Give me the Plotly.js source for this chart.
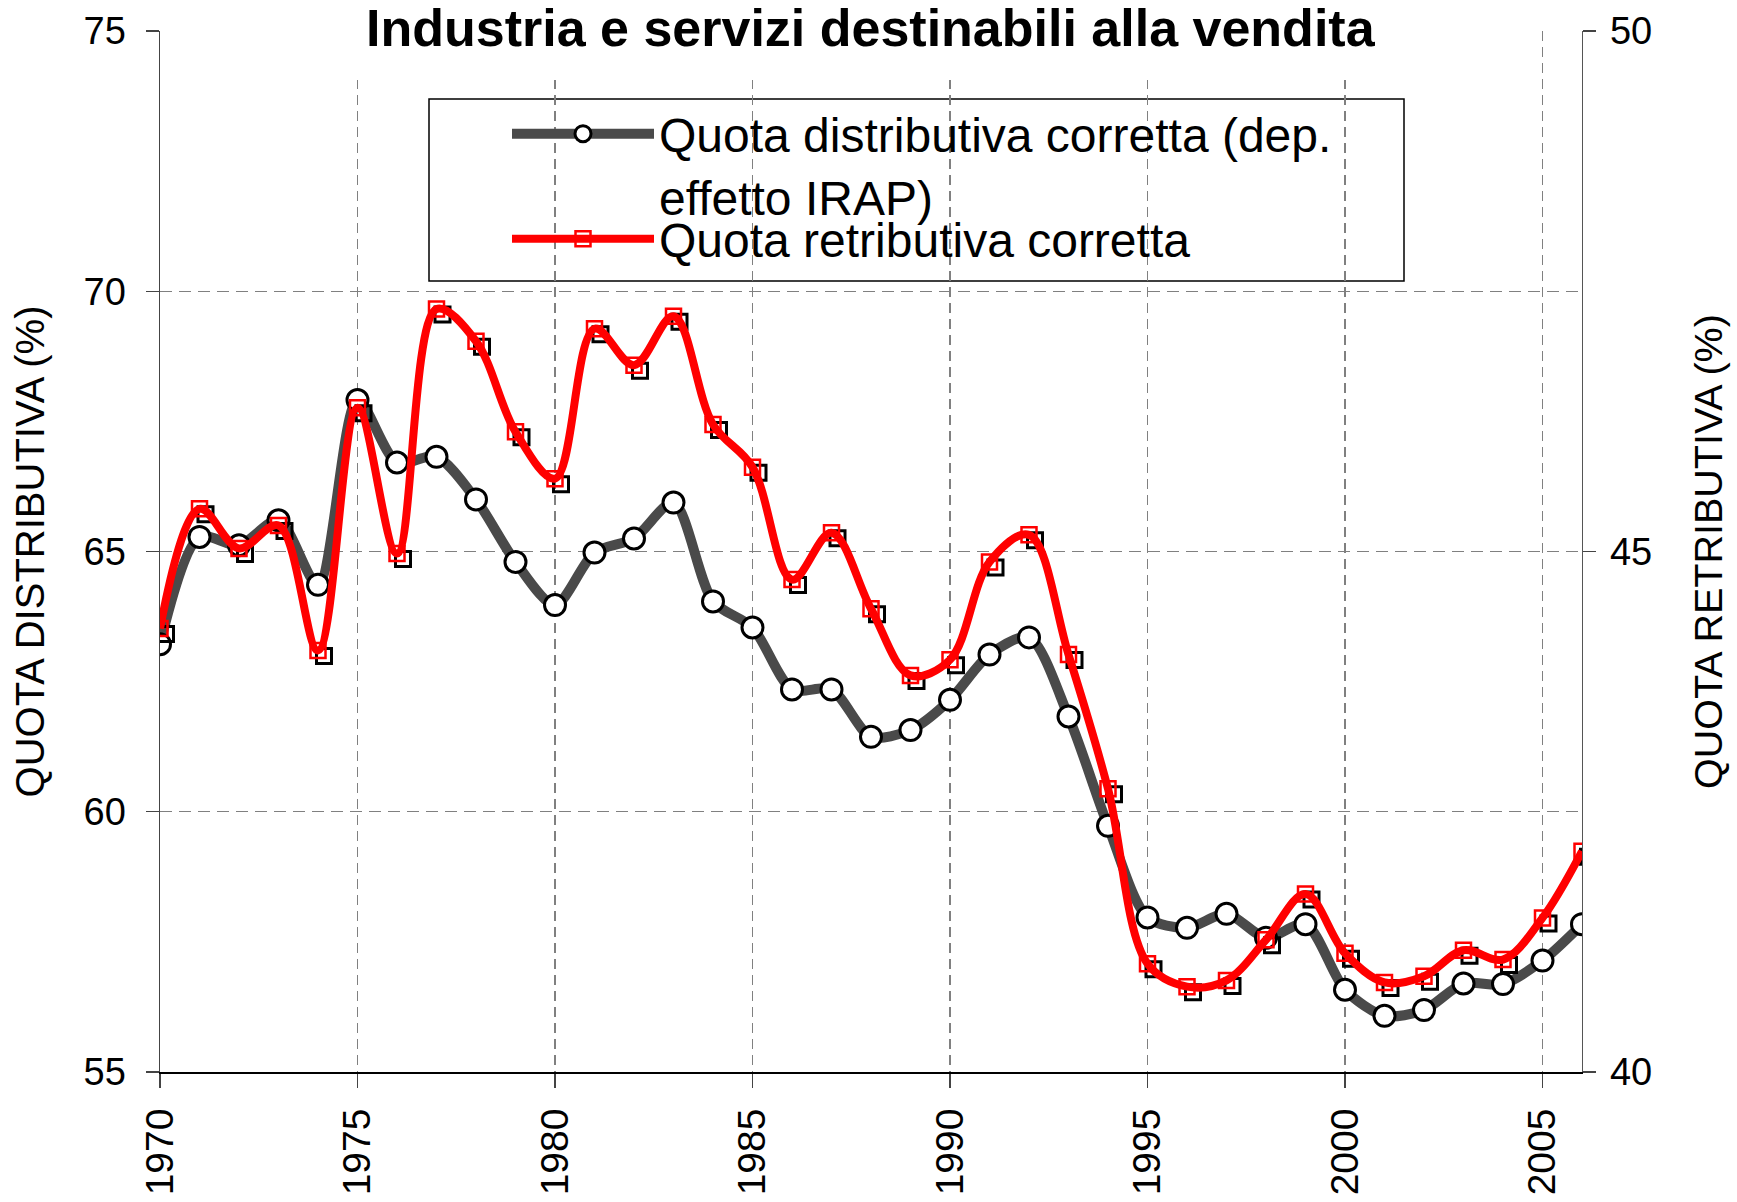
<!DOCTYPE html>
<html>
<head>
<meta charset="utf-8">
<script src="https://cdn.plot.ly/plotly-3.0.1.min.js"></script>
<style>
  html, body { margin: 0; padding: 0; background: #ffffff; }
  #chart { width: 1737px; height: 1202px; }
</style>
</head>
<body>
<div id="chart"></div>
<script>
// ---- data ----
const years = [1970,1971,1972,1973,1974,1975,1976,1977,1978,1979,
               1980,1981,1982,1983,1984,1985,1986,1987,1988,1989,
               1990,1991,1992,1993,1994,1995,1996,1997,1998,1999,
               2000,2001,2002,2003,2004,2005,2006];

// Quota distributiva corretta (left axis, %)
const quotaDistributiva = [63.22,65.28,65.12,65.60,64.36,67.91,66.71,66.82,66.00,64.80,
                           63.97,64.98,65.25,65.94,64.04,63.54,62.35,62.35,61.44,61.57,
                           62.15,63.02,63.35,61.83,59.73,57.97,57.77,58.04,57.58,57.84,
                           56.58,56.08,56.19,56.70,56.69,57.14,57.84];

// Quota retributiva corretta (right axis, %)
const quotaRetributiva = [44.26,45.41,45.03,45.25,44.05,46.38,44.98,47.33,47.02,46.15,
                          45.70,47.14,46.79,47.26,46.22,45.81,44.73,45.18,44.45,43.81,
                          43.96,44.90,45.16,44.01,42.72,41.04,40.82,40.88,41.27,41.71,
                          41.14,40.86,40.92,41.17,41.08,41.48,42.12];

const xTickVals = [1970,1975,1980,1985,1990,1995,2000,2005];
const leftTickVals = [55,60,65,70,75];
const rightTickVals = [40,45,50];

const titleText = 'Industria e servizi destinabili alla vendita';
const nameDist = 'Quota distributiva corretta (dep.<br>effetto IRAP)';
const nameRetr = 'Quota retributiva corretta';
const leftTitle = 'QUOTA DISTRIBUTIVA (%)';
const rightTitle = 'QUOTA RETRIBUTIVA (%)';

// ---- styling ----
const FONT = 'Liberation Sans, Arial, Helvetica, sans-serif';
const xRange = [1970, 2006];
const leftRange = [55, 75];
const rightRange = [40, 50];
// shadow offset of the red markers (in axis units)
const shadowDx = 0.152;
const shadowDy = 0.053;

const traceDist = {
  x: years, y: quotaDistributiva,
  xaxis: 'x', yaxis: 'y',
  name: nameDist, legend: 'legend',
  type: 'scatter', mode: 'lines+markers',
  line: { color: '#4a4a4a', width: 10, shape: 'spline', smoothing: 0.8 },
  marker: { symbol: 'circle', size: 21, color: '#ffffff', line: { color: '#000000', width: 3 } },
  hoverinfo: 'x+y'
};

const traceShadow = {
  x: years, y: quotaRetributiva,
  xaxis: 'x2', yaxis: 'y3',
  type: 'scatter', mode: 'markers',
  showlegend: false, hoverinfo: 'skip',
  marker: { symbol: 'square-open', size: 15, color: '#000000', line: { color: '#000000', width: 3 } }
};

const traceRetr = {
  x: years, y: quotaRetributiva,
  xaxis: 'x3', yaxis: 'y2',
  name: nameRetr, legend: 'legend2',
  type: 'scatter', mode: 'lines+markers',
  line: { color: '#ff0000', width: 8, shape: 'spline', smoothing: 1 },
  marker: { symbol: 'square-open', size: 15, color: '#ff0000', line: { color: '#ff0000', width: 2.5 } },
  hoverinfo: 'x+y'
};

const L = 160, R = 155, T = 31, B = 130;
const W = 1737, H = 1202;
const pw = W - L - R, ph = H - T - B;
const px2x = (p) => (p - L) / pw;
const py2y = (p) => (H - B - p) / ph;

const legendCommon = {
  xanchor: 'left', yanchor: 'top',
  bgcolor: 'rgba(0,0,0,0)', borderwidth: 0,
  font: { family: FONT, size: 48, color: '#000000' },
  itemwidth: 142, valign: 'top', tracegroupgap: 0
};

const layout = {
  width: W, height: H,
  margin: { l: L, r: R, t: T, b: B, autoexpand: false },
  paper_bgcolor: '#ffffff', plot_bgcolor: '#ffffff',
  font: { family: FONT, color: '#000000' },
  showlegend: true,
  legend: Object.assign({}, legendCommon, { x: px2x(507), y: py2y(96) }),
  legend2: Object.assign({}, legendCommon, { x: px2x(507), y: py2y(201) }),
  xaxis: {
    range: xRange, tickmode: 'array', tickvals: xTickVals, tickangle: -90,
    showgrid: true, gridcolor: '#808080', gridwidth: 1.2, griddash: '10px,6px',
    showline: true, linecolor: '#000000', linewidth: 2,
    ticks: 'outside', ticklen: 14, tickcolor: '#444444', tickwidth: 1.3,
    tickfont: { family: FONT, size: 39, color: '#000000' },
    ticklabelstandoff: 5,
    zeroline: false, automargin: false, fixedrange: true
  },
  yaxis: {
    range: leftRange, tickmode: 'array', tickvals: leftTickVals,
    showgrid: true, gridcolor: '#808080', gridwidth: 1.2, griddash: '12px,7px',
    showline: true, linecolor: '#444444', linewidth: 1.5,
    ticks: 'outside', ticklen: 13, tickcolor: '#444444', tickwidth: 1.3,
    tickfont: { family: FONT, size: 38, color: '#000000' },
    ticklabelstandoff: 12,
    title: { text: leftTitle, font: { family: FONT, size: 40, color: '#000000' }, standoff: 26 },
    zeroline: false, automargin: false, fixedrange: true
  },
  yaxis2: {
    range: rightRange, tickmode: 'array', tickvals: rightTickVals,
    overlaying: 'y', side: 'right', anchor: 'x',
    showgrid: false,
    showline: true, linecolor: '#555555', linewidth: 1.3,
    ticks: 'outside', ticklen: 13, tickcolor: '#444444', tickwidth: 1.3,
    tickfont: { family: FONT, size: 38, color: '#000000' },
    ticklabelstandoff: 6,
    title: { text: rightTitle, font: { family: FONT, size: 39.5, color: '#000000' }, standoff: 43 },
    zeroline: false, automargin: false, fixedrange: true
  },
  // invisible helper axes: shadow of the red markers and ordering of the red trace
  xaxis2: { overlaying: 'x', range: [xRange[0] - shadowDx, xRange[1] - shadowDx], visible: false, fixedrange: true },
  yaxis3: { overlaying: 'y', range: [rightRange[0] + shadowDy, rightRange[1] + shadowDy], visible: false, fixedrange: true },
  xaxis3: { overlaying: 'x', range: xRange, visible: false, fixedrange: true },
  shapes: [
    // white backing behind the title (interrupts the gridlines like the original)
    { type: 'rect', xref: 'paper', yref: 'paper', layer: 'above',
      x0: px2x(350), x1: px2x(1392), y0: py2y(80), y1: py2y(0),
      fillcolor: '#ffffff', line: { width: 0 } },
    // legend frame
    { type: 'rect', xref: 'paper', yref: 'paper', layer: 'between',
      x0: px2x(429), x1: px2x(1404), y0: py2y(281), y1: py2y(99),
      fillcolor: '#ffffff', line: { color: '#000000', width: 1.5 } }
  ],
  annotations: [
    { text: '<b>' + titleText + '</b>', xref: 'paper', yref: 'paper',
      x: 0.5, y: py2y(28), xanchor: 'center', yanchor: 'middle', showarrow: false,
      font: { family: FONT, size: 52, color: '#000000' } }
  ]
};

Plotly.newPlot('chart', [traceDist, traceShadow, traceRetr], layout,
  { staticPlot: true, displayModeBar: false });
</script>
</body>
</html>
